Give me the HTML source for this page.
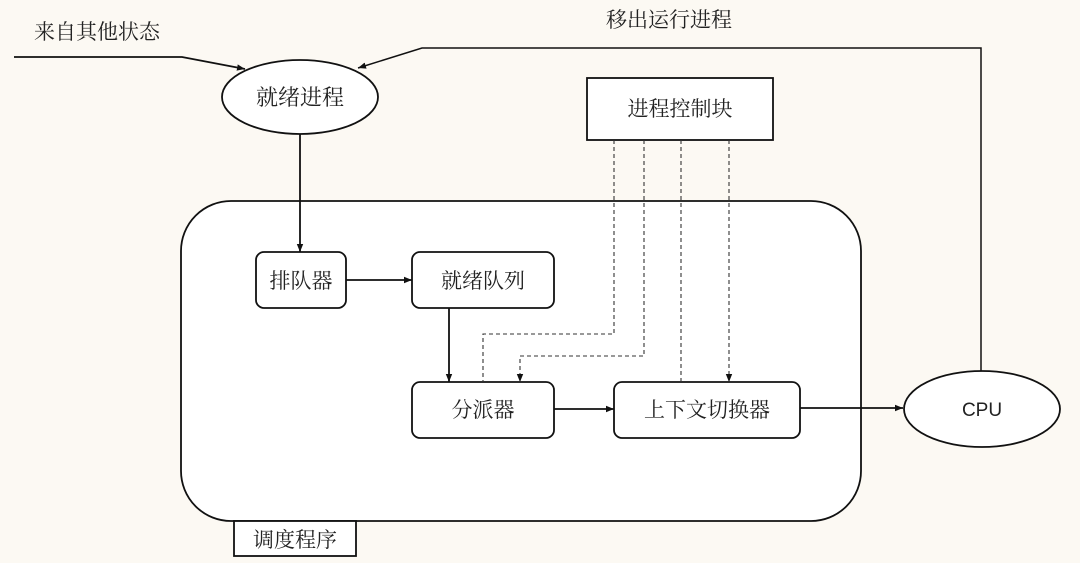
<!DOCTYPE html>
<html><head><meta charset="utf-8"><style>
html,body{margin:0;padding:0;background:#fcf9f3;}
svg{display:block;}
text{font-family:"Liberation Sans","Noto Serif CJK SC",serif;fill:#222;}
</style></head><body>
<svg width="1080" height="563" viewBox="0 0 1080 563" xmlns="http://www.w3.org/2000/svg">
<defs>
<marker id="a" viewBox="0 0 10 10" refX="10" refY="5" markerWidth="8" markerHeight="8" orient="auto" markerUnits="userSpaceOnUse">
<path d="M0,1 L10,5 L0,9 z" fill="#111"/></marker>
</defs>
<rect width="1080" height="563" fill="#fcf9f3"/>
<g stroke="#111" stroke-width="1.8" fill="none">
<rect x="181" y="201" width="680" height="320" rx="50" fill="#fff"/>
<rect x="234" y="521" width="122" height="35" fill="#fff"/>
<ellipse cx="300" cy="97" rx="78" ry="37" fill="#fff"/>
<ellipse cx="982" cy="409" rx="78" ry="38" fill="#fff"/>
<rect x="587" y="78" width="186" height="62" fill="#fff"/>
<rect x="256" y="252" width="90" height="56" rx="8" fill="#fff"/>
<rect x="412" y="252" width="142" height="56" rx="8" fill="#fff"/>
<rect x="412" y="382" width="142" height="56" rx="8" fill="#fff"/>
<rect x="614" y="382" width="186" height="56" rx="8" fill="#fff"/>
<polyline points="14,57 182,57 245,69" marker-end="url(#a)"/>
<polyline points="981,371 981,48 422,48 358,68" marker-end="url(#a)" stroke-width="1.5"/>
<line x1="300" y1="134" x2="300" y2="252" marker-end="url(#a)"/>
<line x1="346" y1="280" x2="412" y2="280" marker-end="url(#a)"/>
<line x1="449" y1="308" x2="449" y2="382" marker-end="url(#a)"/>
<line x1="554" y1="409" x2="614" y2="409" marker-end="url(#a)"/>
<line x1="800" y1="408" x2="903" y2="408" marker-end="url(#a)"/>
</g>
<g stroke="#333" stroke-width="1.1" fill="none" stroke-dasharray="4,3">
<polyline points="614,140 614,334 483,334 483,382"/>
<polyline points="644,140 644,356 520,356 520,382" marker-end="url(#a)"/>
<line x1="681" y1="140" x2="681" y2="382"/>
<line x1="729" y1="140" x2="729" y2="382" marker-end="url(#a)"/>
</g>
<g font-size="21">
<text x="34" y="39">来自其他状态</text>
<text x="606" y="27">移出运行进程</text>
<text x="300" y="105" text-anchor="middle" font-size="22">就绪进程</text>
<text x="680" y="116" text-anchor="middle">进程控制块</text>
<text x="301" y="288" text-anchor="middle">排队器</text>
<text x="483" y="288" text-anchor="middle">就绪队列</text>
<text x="483" y="417" text-anchor="middle">分派器</text>
<text x="707" y="417" text-anchor="middle">上下文切换器</text>
<text x="982" y="416" text-anchor="middle" font-size="19">CPU</text>
<text x="295" y="547" text-anchor="middle">调度程序</text>
</g>
</svg>
</body></html>
